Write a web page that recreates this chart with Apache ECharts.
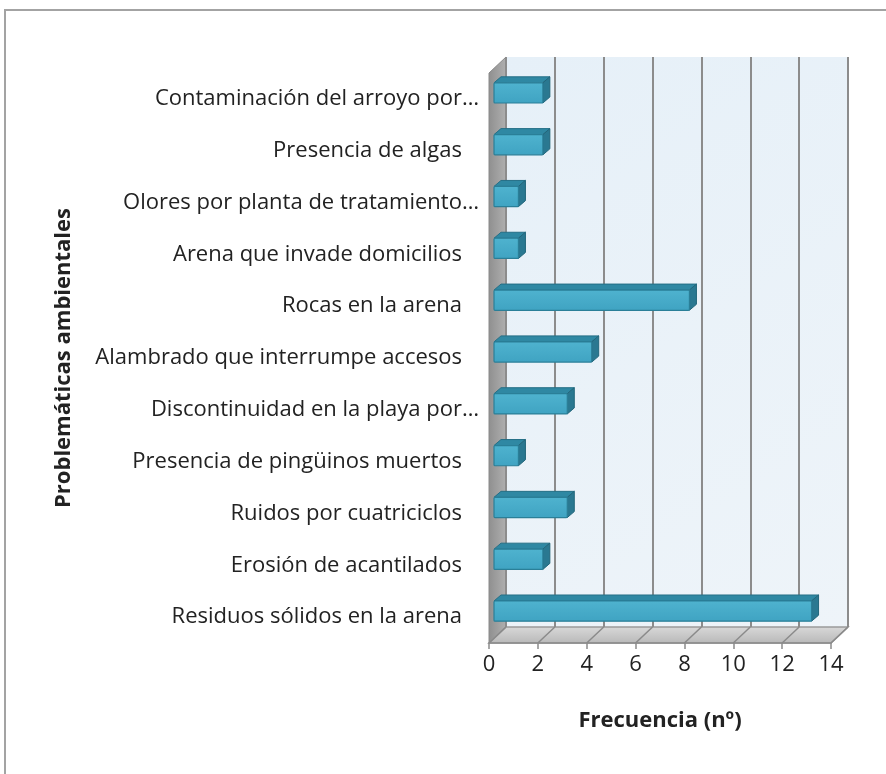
<!DOCTYPE html>
<html>
<head>
<meta charset="utf-8">
<script src="https://cdn.jsdelivr.net/npm/echarts@6/dist/echarts.min.js"></script>
<style>
  html, body { margin: 0; padding: 0; background: #fff; }
  #chart { width: 886px; height: 774px; }
</style>
</head>
<body>
<div id="chart"></div>
<script>
// categorias (de arriba hacia abajo) y frecuencias
var categories = [
  'Contaminación del arroyo por…',
  'Presencia de algas',
  'Olores por planta de tratamiento…',
  'Arena que invade domicilios',
  'Rocas en la arena',
  'Alambrado que interrumpe accesos',
  'Discontinuidad en la playa por…',
  'Presencia de pingüinos muertos',
  'Ruidos por cuatriciclos',
  'Erosión de acantilados',
  'Residuos sólidos en la arena'
];
var values = [2, 2, 1, 1, 8, 4, 3, 1, 3, 2, 13];
var xTicks = [0, 2, 4, 6, 8, 10, 12, 14];

// layout 3D (pared del fondo + desplazamiento de profundidad)
var BACK_L = 506, BACK_T = 57, BACK_W = 342, BACK_H = 570;
var DX = 17, DY = 16;
var FRONT_L = BACK_L - DX, FRONT_T = BACK_T + DY;
var FONT = '"Open Sans", "Noto Sans", sans-serif';

var chart = echarts.init(document.getElementById('chart'));

function bar3d(params, api) {
  var v = api.value(0), idx = api.value(1);
  var p0 = api.coord([0, idx]);
  var p1 = api.coord([v, idx]);
  var band = api.size([0, 1])[1];
  var h = band * 0.39;
  var sx = 5, sy = -6, dx = 7, dy = 6;
  var x0 = p0[0] + sx, x1 = p1[0] + sx;
  var yT = p0[1] + sy - h / 2, yB = yT + h;
  return {
    type: 'group',
    children: [
      { type: 'polygon', shape: { points: [[x0, yT], [x0 + dx, yT - dy], [x1 + dx, yT - dy], [x1, yT]] },
        style: { fill: '#2f88a3', stroke: '#256f86', lineWidth: 1 } },
      { type: 'polygon', shape: { points: [[x1, yT], [x1 + dx, yT - dy], [x1 + dx, yB - dy], [x1, yB]] },
        style: { fill: '#2a7891', stroke: '#22667b', lineWidth: 1 } },
      { type: 'rect', shape: { x: x0, y: yT, width: x1 - x0, height: h, r: 1 },
        style: { fill: new echarts.graphic.LinearGradient(0, 0, 0, 1, [
          { offset: 0, color: '#4fb3cf' }, { offset: 1, color: '#3fa3c2' }]),
          stroke: '#2a7f98', lineWidth: 1.2 } }
    ]
  };
}

function floorLine(params, api) {
  var p = api.coord([api.value(0), 0]);
  var gy = FRONT_T + BACK_H;
  return { type: 'line', shape: { x1: p[0], y1: gy, x2: p[0] + DX, y2: gy - DY },
    style: { stroke: '#8a8a8a', lineWidth: 1.5 } };
}

var option = {
  backgroundColor: '#ffffff',
  animation: false,
  graphic: [
    { type: 'rect', z: -10, shape: { x: 5, y: 10, width: 1000, height: 1000 },
      style: { fill: 'none', stroke: '#a3a3a3', lineWidth: 2 } },
    // pared izquierda
    { type: 'polygon', z: -5, shape: { points: [[FRONT_L, FRONT_T], [BACK_L, BACK_T], [BACK_L, BACK_T + BACK_H], [FRONT_L, FRONT_T + BACK_H]] },
      style: { fill: new echarts.graphic.LinearGradient(0, 0, 1, 0, [
        { offset: 0, color: '#8f8f8f' }, { offset: 1, color: '#b0b0b0' }]), stroke: '#8a8a8a', lineWidth: 1 } },
    // piso
    { type: 'polygon', z: -5, shape: { points: [[FRONT_L, FRONT_T + BACK_H], [BACK_L, BACK_T + BACK_H], [BACK_L + BACK_W, BACK_T + BACK_H], [FRONT_L + BACK_W, FRONT_T + BACK_H]] },
      style: { fill: new echarts.graphic.LinearGradient(0, 0, 0, 1, [
        { offset: 0, color: '#d9d9d9' }, { offset: 1, color: '#b8b8b8' }]), stroke: '#9a9a9a', lineWidth: 1.5 } }
  ],
  grid: [
    { left: BACK_L, top: BACK_T, width: BACK_W, height: BACK_H, show: true, borderWidth: 0, z: -8,
      backgroundColor: new echarts.graphic.LinearGradient(0, 0, 1, 1, [
        { offset: 0, color: '#e6f0f8' }, { offset: 1, color: '#eef4f9' }]) },
    { left: FRONT_L, top: FRONT_T, width: BACK_W, height: BACK_H }
  ],
  xAxis: [
    { gridIndex: 0, type: 'value', min: 0, max: 14, interval: 2,
      axisLine: { show: false }, axisTick: { show: false }, axisLabel: { show: false },
      splitLine: { show: true, lineStyle: { color: '#8c8c8c', width: 2 } } },
    { gridIndex: 1, type: 'value', min: 0, max: 14, interval: 2,
      axisLine: { show: true, lineStyle: { color: '#8c8c8c', width: 1.5 } },
      axisTick: { show: true, length: 6, lineStyle: { color: '#8c8c8c', width: 1.5 } },
      axisLabel: { color: '#222', fontSize: 22, fontFamily: FONT, margin: 11 },
      splitLine: { show: false },
      name: 'Frecuencia (nº)', nameLocation: 'middle', nameGap: 67,
      nameTextStyle: { color: '#222', fontSize: 22, fontWeight: 'bold', fontFamily: FONT } }
  ],
  yAxis: [
    { gridIndex: 0, type: 'category', data: categories, inverse: true,
      axisLine: { show: false }, axisTick: { show: false }, axisLabel: { show: false }, splitLine: { show: false } },
    { gridIndex: 1, type: 'category', data: categories, inverse: true,
      axisLine: { show: false }, axisTick: { show: false },
      axisLabel: { margin: 10, fontFamily: FONT, fontSize: 22, color: '#222',
        formatter: function (v) {
          return v.slice(-1) === '…' ? '{e|' + v + '}' : '{n|' + v + '}';
        },
        rich: {
          n: { fontFamily: FONT, fontSize: 22, color: '#222', padding: [0, 17, 0, 0] },
          e: { fontFamily: FONT, fontSize: 22, color: '#222' }
        } },
      name: 'Problemáticas ambientales', nameLocation: 'middle', nameGap: 414, nameRotate: 90,
      nameTextStyle: { color: '#222', fontSize: 22, fontWeight: 'bold', fontFamily: FONT } }
  ],
  series: [
    { type: 'custom', xAxisIndex: 1, yAxisIndex: 1, renderItem: floorLine, z: 1,
      data: xTicks.map(function (t) { return [t, 0]; }) },
    { type: 'custom', xAxisIndex: 1, yAxisIndex: 1, renderItem: bar3d, z: 5,
      data: values.map(function (v, i) { return [v, i]; }) }
  ]
};

chart.setOption(option);
</script>
</body>
</html>
